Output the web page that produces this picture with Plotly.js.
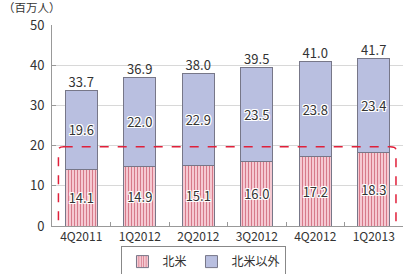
<!DOCTYPE html>
<html><head><meta charset="utf-8">
<script src="https://cdn.plot.ly/plotly-3.0.1.min.js"></script>
<style>html,body{margin:0;padding:0;background:#fff}#chart{width:407px;height:274px}</style>
</head><body><div id="chart"></div>
<script>
const categories = ["4Q2011","1Q2012","2Q2012","3Q2012","4Q2012","1Q2013"];
const northAmerica = [14.1, 14.9, 15.1, 16.0, 17.2, 18.3];
const outsideNA = [19.6, 22.0, 22.9, 23.5, 23.8, 23.4];
const totals = [33.7, 36.9, 38.0, 39.5, 41.0, 41.7];
const yTicks = [0, 10, 20, 30, 40, 50];
const seriesNames = ["北米", "北米以外"];

const FONT = '"Noto Sans CJK JP", "Noto Sans", sans-serif';
const halo = "1px 0 0 #fff, -1px 0 0 #fff, 0 1px 0 #fff, 0 -1px 0 #fff, 1px 1px 0 #fff, -1px -1px 0 #fff, 1px -1px 0 #fff, -1px 1px 0 #fff";
const inFont = {family: FONT, size: 13, color: "#333", shadow: halo};

const traces = [
  {type: "bar", name: seriesNames[0], x: categories, y: northAmerica,
   text: northAmerica.map(v => v.toFixed(1)), textposition: "inside", insidetextanchor: "middle",
   textfont: inFont, constraintext: "none",
   marker: {color: "#f5c9d2", line: {color: "#777788", width: 1},
            pattern: {shape: "|", fgcolor: "#d67a8a", bgcolor: "#f5c9d2", size: 3, solidity: 0.35}}},
  {type: "bar", name: seriesNames[1], x: categories, y: outsideNA,
   text: outsideNA.map(v => v.toFixed(1)), textposition: "inside", insidetextanchor: "middle",
   textfont: inFont, constraintext: "none",
   marker: {color: "#b9bfe0", line: {color: "#777788", width: 1}}},
  {type: "scatter", mode: "text", x: categories, y: totals, showlegend: false, hoverinfo: "skip",
   text: totals.map(v => v.toFixed(1)), textposition: "top center",
   textfont: {family: FONT, size: 13, color: "#333"}}
];

const layout = {
  width: 407, height: 274,
  margin: {l: 52, r: 4, t: 25, b: 48, autoexpand: false},
  barmode: "stack", bargap: 0.45,
  paper_bgcolor: "#fff", plot_bgcolor: "#fff",
  font: {family: FONT, size: 12, color: "#333"},
  showlegend: true,
  legend: {orientation: "h", x: 0.433, xanchor: "center", y: -0.1, yanchor: "top",
           bordercolor: "#888", borderwidth: 1, font: {family: FONT, size: 12, color: "#333"},
           traceorder: "normal", itemwidth: 30},
  xaxis: {type: "category", showline: true, linecolor: "#999", linewidth: 1,
          ticks: "inside", tickson: "boundaries", ticklen: 4, tickcolor: "#999",
          tickfont: {family: FONT, size: 12, color: "#333"}, showgrid: false, zeroline: false},
  yaxis: {range: [0, 50], tickvals: yTicks, showline: true, linecolor: "#999", linewidth: 1,
          ticks: "inside", ticklen: 4, tickcolor: "#999",
          showgrid: true, gridcolor: "#d8d8d8", gridwidth: 1, zeroline: false,
          tickfont: {family: FONT, size: 13, color: "#333"}, ticklabelstandoff: 4},
  annotations: [
    {text: "（百万人）", xref: "paper", yref: "paper", x: -0.145, y: 1.09, xanchor: "left", yanchor: "middle",
     showarrow: false, font: {family: FONT, size: 11.5, color: "#333"}}
  ],
  shapes: [
    {type: "path", xref: "x", yref: "y", layer: "above",
     path: "M -0.3,19.7 L 5.28,19.7 Q 5.38,19.7 5.38,18.9 L 5.38,0.0 Q 5.38,-0.8 5.28,-0.8 L -0.3,-0.8 Q -0.39,-0.8 -0.39,0.0 L -0.39,18.9 Q -0.39,19.7 -0.3,19.7 Z",
     line: {color: "#e0203a", width: 1.5, dash: "dash"}}
  ]
};

Plotly.newPlot("chart", traces, layout, {staticPlot: true, displayModeBar: false});
</script></body></html>
